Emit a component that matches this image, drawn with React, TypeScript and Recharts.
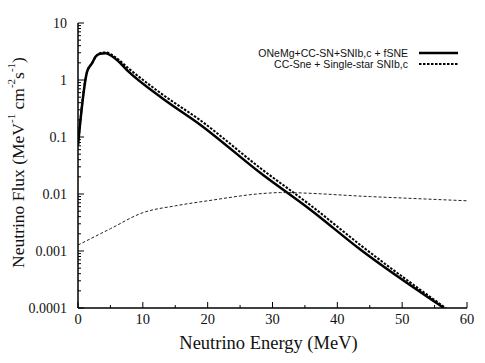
import React from "react";
import { LineChart, Line, XAxis, YAxis, Legend, Label } from "recharts";

// ONeMg + CC-SN + SNIb,c + fSNE (thick solid)
const solidEnergy = [0, 1.4, 2.2, 2.7, 3.4, 4.2, 6, 7.8, 13.0, 18.9, 28.2, 35.9, 43.6, 56.45];
const solidFlux = [0.072, 1.4, 2.0, 2.55, 2.9, 2.95, 2.24, 1.4, 0.479, 0.163, 0.0231, 0.00525, 0.00105, 0.0001];

// CC-Sne + Single-star SNIb,c (thick dashed)
const dashEnergy = [0, 1.4, 2.2, 2.7, 3.4, 4.2, 6, 7.8, 13.0, 18.9, 28.2, 35.9, 43.6, 56.7];
const dashFlux = [0.072, 1.4, 2.0, 2.55, 2.95, 3.05, 2.4, 1.6, 0.56, 0.195, 0.028, 0.0063, 0.00126, 0.0001];

// thin dashed curve (no legend entry)
const thinEnergy = [0, 5, 10, 15, 20, 29, 31.25, 45.1, 60];
const thinFlux = [0.00127, 0.00246, 0.0047, 0.0062, 0.0076, 0.0103, 0.0106, 0.009, 0.0076];

const seriesNames = ["ONeMg+CC-SN+SNIb,c + fSNE", "CC-Sne + Single-star SNIb,c"];

const xTicks = [0, 5, 10, 15, 20, 25, 30, 35, 40, 45, 50, 55, 60];
const xLabels = [0, 10, 20, 30, 40, 50, 60];
const yMajor = [0.0001, 0.001, 0.01, 0.1, 1, 10];
const yLabels = ["0.0001", "0.001", "0.01", "0.1", "1", "10"];
const minorSteps = [2, 3, 4, 5, 6, 7, 8, 9];

const yTicks = yMajor.flatMap((d, i) =>
  i < yMajor.length - 1 ? [d, ...minorSteps.map((m) => d * m)] : [d]
);

const toPoints = (e: number[], f: number[]) => e.map((x, i) => ({ e: x, flux: f[i] }));

const SERIF = "'Times New Roman', 'Liberation Serif', 'DejaVu Serif', Times, serif";
const INK = "#111";

const majorIndex = (v: number) => yMajor.findIndex((m) => Math.abs(v / m - 1) < 1e-6);

const BottomTick = (p: any) => {
  const { x, y, payload } = p;
  const major = xLabels.includes(payload.value);
  return (
    <g>
      <line x1={x} x2={x} y1={y} y2={y - (major ? 6 : 3)} stroke="#000" />
      {major && (
        <text x={x} y={y + 16} textAnchor="middle" style={{ fontFamily: SERIF, fontSize: 14.5 }} fill={INK}>
          {payload.value}
        </text>
      )}
    </g>
  );
};

const TopTick = (p: any) => {
  const { x, y, payload } = p;
  const major = xLabels.includes(payload.value);
  return <line x1={x} x2={x} y1={y} y2={y + (major ? 6 : 3)} stroke="#000" />;
};

const LeftTick = (p: any) => {
  const { x, y, payload } = p;
  const idx = majorIndex(payload.value);
  return (
    <g>
      <line x1={x} x2={x + (idx >= 0 ? 6 : 3)} y1={y} y2={y} stroke="#000" />
      {idx >= 0 && (
        <text x={x - 11} y={y + 5} textAnchor="end" style={{ fontFamily: SERIF, fontSize: 14 }} fill={INK}>
          {yLabels[idx]}
        </text>
      )}
    </g>
  );
};

const RightTick = (p: any) => {
  const { x, y, payload } = p;
  const idx = majorIndex(payload.value);
  return <line x1={x} x2={x - (idx >= 0 ? 6 : 3)} y1={y} y2={y} stroke="#000" />;
};

const XTitle = (p: any) => {
  const vb = p.viewBox || {};
  return (
    <text
      x={vb.x + vb.width / 2 - 4}
      y={vb.y + 41}
      textAnchor="middle"
      style={{ fontFamily: SERIF, fontSize: 18.5 }}
      fill={INK}
    >
      Neutrino Energy (MeV)
    </text>
  );
};

const YTitle = (p: any) => {
  const vb = p.viewBox || {};
  const cx = vb.x + 18;
  const cy = vb.y + vb.height / 2 - 3;
  return (
    <text
      x={cx}
      y={cy}
      transform={`rotate(-90, ${cx}, ${cy})`}
      textAnchor="middle"
      dominantBaseline="central"
      style={{ fontFamily: SERIF, fontSize: 17.5 }}
      fill={INK}
    >
      Neutrino Flux (MeV
      <tspan style={{ fontSize: 11 }} dy={-7}>-1</tspan>
      <tspan dy={7}> cm</tspan>
      <tspan style={{ fontSize: 11 }} dy={-7}>-2</tspan>
      <tspan dy={7}>s</tspan>
      <tspan style={{ fontSize: 11 }} dy={-7}>-1</tspan>
      <tspan dy={7}>)</tspan>
    </text>
  );
};

const LegendBox = (props: any) => {
  const items = (props.payload || [])
    .filter((it: any) => seriesNames.includes(it.value))
    .sort((a: any, b: any) => seriesNames.indexOf(a.value) - seriesNames.indexOf(b.value));
  return (
    <div style={{ display: "flex", flexDirection: "column", alignItems: "flex-end" }}>
      {items.map((it: any) => (
        <div key={it.value} style={{ display: "flex", alignItems: "center", height: 10.5 }}>
          <span
            style={{
              fontFamily: "'Liberation Sans', Arial, sans-serif",
              fontSize: 10.5,
              color: "#111",
              lineHeight: "10px",
            }}
          >
            {it.value}
          </span>
          <svg width={39} height={4} style={{ marginLeft: 11 }}>
            <line
              x1={0}
              x2={39}
              y1={2}
              y2={2}
              stroke="#000"
              strokeWidth={it.payload?.strokeWidth ?? 2}
              strokeDasharray={it.payload?.strokeDasharray}
            />
          </svg>
        </div>
      ))}
    </div>
  );
};

export default function App() {
  return (
    <div style={{ position: "absolute", left: 0, top: 0, background: "#fff" }}>
      <LineChart width={485} height={363} margin={{ top: 23, right: 18, bottom: 0, left: 0 }}>
        <XAxis
          dataKey="e"
          type="number"
          domain={[0, 60]}
          ticks={xTicks}
          interval={0}
          tickSize={0}
          tickMargin={0}
          height={55}
          tick={BottomTick}
          tickLine={false}
          axisLine={{ stroke: "#000", strokeWidth: 1.5 }}
          allowDataOverflow
        >
          <Label content={XTitle} />
        </XAxis>
        <XAxis
          xAxisId="top"
          orientation="top"
          dataKey="e"
          type="number"
          domain={[0, 60]}
          ticks={xTicks}
          interval={0}
          tickSize={0}
          tickMargin={0}
          height={0}
          tick={TopTick}
          tickLine={false}
          axisLine={{ stroke: "#000", strokeWidth: 1.5 }}
          allowDataOverflow
        />
        <YAxis
          scale="log"
          type="number"
          domain={[0.0001, 10]}
          ticks={yTicks}
          interval={0}
          tickSize={0}
          tickMargin={0}
          width={78}
          tick={LeftTick}
          tickLine={false}
          axisLine={{ stroke: "#000", strokeWidth: 1.5 }}
          allowDataOverflow
        >
          <Label content={YTitle} />
        </YAxis>
        <YAxis
          yAxisId="r"
          orientation="right"
          scale="log"
          type="number"
          domain={[0.0001, 10]}
          ticks={yTicks}
          interval={0}
          tickSize={0}
          tickMargin={0}
          width={0}
          tick={RightTick}
          tickLine={false}
          axisLine={{ stroke: "#000", strokeWidth: 1.5 }}
          allowDataOverflow
        />
        <Legend
          layout="vertical"
          align="center"
          verticalAlign="middle"
          content={LegendBox}
          wrapperStyle={{ position: "absolute", top: 48, left: 150, width: 308 }}
        />
        <Line
          data={toPoints(solidEnergy, solidFlux)}
          dataKey="flux"
          name={seriesNames[0]}
          type="monotone"
          stroke="#000"
          strokeWidth={2.5}
          dot={false}
          isAnimationActive={false}
        />
        <Line
          data={toPoints(dashEnergy, dashFlux)}
          dataKey="flux"
          name={seriesNames[1]}
          type="monotone"
          stroke="#000"
          strokeWidth={2}
          strokeDasharray="2.5 1.5"
          dot={false}
          isAnimationActive={false}
        />
        <Line
          data={toPoints(thinEnergy, thinFlux)}
          dataKey="flux"
          name="background"
          type="monotone"
          stroke="#222"
          strokeWidth={1}
          strokeDasharray="3 2"
          dot={false}
          legendType="none"
          isAnimationActive={false}
        />
      </LineChart>
    </div>
  );
}
